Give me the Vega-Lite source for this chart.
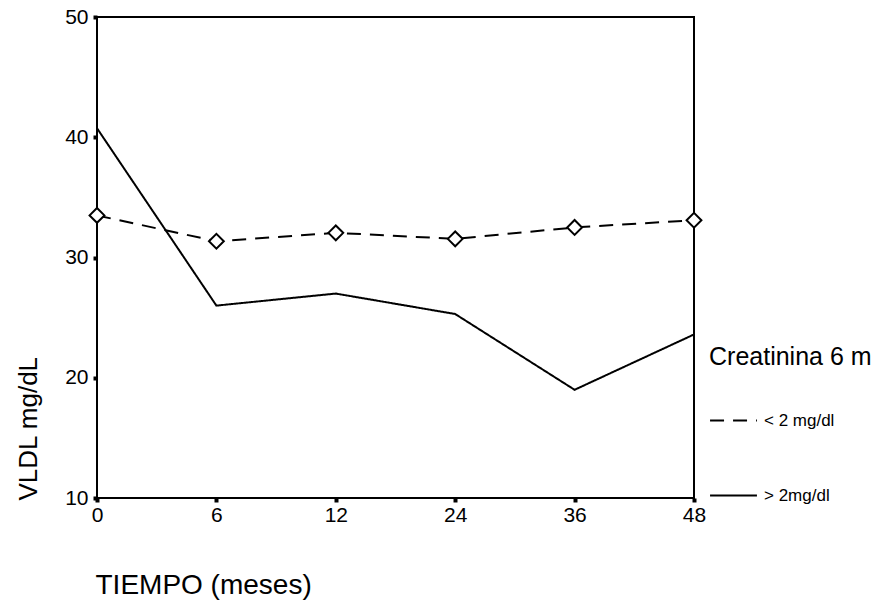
{
  "$schema": "https://vega.github.io/schema/vega-lite/v6.json",
  "width": 597,
  "height": 481,
  "autosize": {"type": "none"},
  "padding": {"left": 97, "top": 17, "right": 197, "bottom": 109},
  "background": "white",
  "config": {
    "font": "Liberation Sans",
    "view": {"stroke": "black", "strokeWidth": 2},
    "axis": {"domain": false, "grid": false, "labelColor": "black", "titleColor": "black", "tickColor": "black"}
  },
  "data": {
    "values": [
      {"t": "0", "g": "< 2 mg/dl", "v": 33.5},
      {"t": "6", "g": "< 2 mg/dl", "v": 31.35},
      {"t": "12", "g": "< 2 mg/dl", "v": 32.05},
      {"t": "24", "g": "< 2 mg/dl", "v": 31.55},
      {"t": "36", "g": "< 2 mg/dl", "v": 32.5},
      {"t": "48", "g": "< 2 mg/dl", "v": 33.1},
      {"t": "0", "g": "> 2mg/dl", "v": 40.75},
      {"t": "6", "g": "> 2mg/dl", "v": 26.0},
      {"t": "12", "g": "> 2mg/dl", "v": 27.0},
      {"t": "24", "g": "> 2mg/dl", "v": 25.3},
      {"t": "36", "g": "> 2mg/dl", "v": 19.0},
      {"t": "48", "g": "> 2mg/dl", "v": 23.6}
    ]
  },
  "encoding": {
    "x": {
      "field": "t", "type": "ordinal", "sort": ["0", "6", "12", "24", "36", "48"],
      "scale": {"type": "point", "padding": 0},
      "axis": {
        "title": "TIEMPO (meses)", "labelAngle": 0, "labelFontSize": 21, "labelPadding": 2,
        "tickSize": 4, "tickWidth": 4, "titleFontSize": 28, "titleFontWeight": "normal",
        "titleAnchor": "start", "titleAlign": "left", "titleX": -2, "titleY": 95, "titleBaseline": "alphabetic"
      }
    },
    "y": {
      "field": "v", "type": "quantitative",
      "scale": {"domain": [10, 50], "nice": false, "zero": false},
      "axis": {
        "title": "VLDL mg/dL", "values": [10, 20, 30, 40, 50], "labelFontSize": 21, "labelPadding": 5,
        "tickSize": 4, "tickWidth": 4, "titleFontSize": 26, "titleFontWeight": "normal",
        "titleAlign": "left", "titleAngle": -90, "titleX": -61, "titleY": 483, "titleBaseline": "alphabetic"
      }
    }
  },
  "layer": [
    {
      "mark": {"type": "line", "color": "black", "strokeWidth": 2},
      "encoding": {
        "strokeDash": {
          "field": "g", "type": "nominal",
          "scale": {"domain": ["< 2 mg/dl", "> 2mg/dl"], "range": [[14, 9], [1, 0]]},
          "legend": {
            "title": "Creatinina 6 m", "orient": "none", "legendX": 612, "legendY": 328,
            "titleFontSize": 25, "titleFontWeight": "normal", "titleColor": "black",
            "labelFontSize": 17, "labelColor": "black", "symbolType": "stroke",
            "symbolStrokeColor": "black", "symbolStrokeWidth": 2, "symbolSize": 2200,
            "rowPadding": 42, "titlePadding": 26, "labelOffset": 6
          }
        }
      }
    },
    {
      "transform": [{"filter": "datum.g === '< 2 mg/dl'"}],
      "mark": {"type": "point", "shape": "diamond", "size": 220, "filled": true, "fill": "white", "stroke": "black", "strokeWidth": 2, "opacity": 1}
    }
  ]
}
